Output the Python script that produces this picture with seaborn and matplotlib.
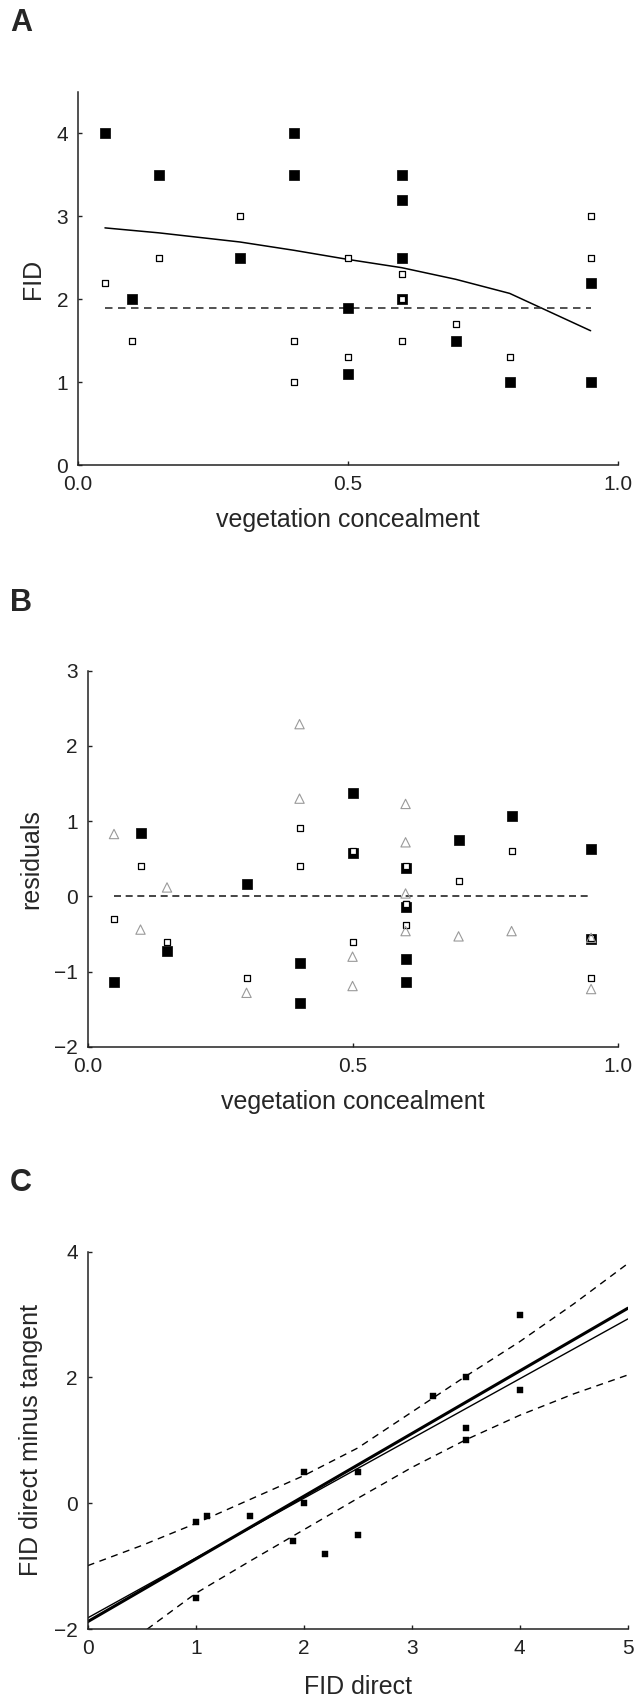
import numpy as np
import pandas as pd
import matplotlib
matplotlib.use("Agg")
import matplotlib.pyplot as plt
import seaborn as sns

# ---- data ----
# panel A: FID per vegetation concealment, direct (filled) and tangent (open)
veg = [0.05, 0.10, 0.15, 0.30, 0.40, 0.40, 0.50, 0.50,
       0.60, 0.60, 0.60, 0.60, 0.70, 0.80, 0.95, 0.95]
fid_direct = [4.0, 2.0, 3.5, 2.5, 4.0, 3.5, 1.9, 1.1,
              3.5, 3.2, 2.5, 2.0, 1.5, 1.0, 2.2, 1.0]
fid_tangent = [2.2, 1.5, 2.5, 3.0, 1.0, 1.5, 2.5, 1.3,
               2.3, 1.5, 2.0, 2.0, 1.7, 1.3, 3.0, 2.5]

curve_x = [0.05, 0.10, 0.15, 0.30, 0.40, 0.50, 0.60, 0.70, 0.80, 0.95]
curve_y = [2.86, 2.83, 2.80, 2.69, 2.59, 2.48, 2.38, 2.24, 2.07, 1.62]
ref_x = [0.05, 0.95]
ref_y = [1.9, 1.9]

# panel B: residuals
res_filled = [-1.13, 0.84, -0.72, 0.17, -0.89, -1.42, 1.38, 0.58,
              0.38, -0.14, -0.83, -1.13, 0.75, 1.07, 0.63, -0.57]
res_open = [-0.30, 0.40, -0.60, -1.08, 0.91, 0.40, 0.60, -0.60,
            0.40, -0.10, -0.10, -0.38, 0.20, 0.61, -0.55, -1.08]
res_tri = [0.83, -0.44, 0.12, -1.28, 2.29, 1.30, -0.80, -1.19,
           1.23, 0.72, 0.04, -0.46, -0.53, -0.46, -1.23, -0.55]
zero_x = [0.05, 0.95]
zero_y = [0.0, 0.0]

# panel C: regression of (direct - tangent) on direct
fit_x = [0, 5]
fit_thick = [-1.88, 3.10]
fit_thin = [-1.82, 2.93]
ci_up_x = [0.0, 0.5, 1.0, 1.5, 2.0, 2.5, 3.0, 3.5, 4.0, 4.5, 5.0]
ci_up_y = [-0.99, -0.67, -0.32, 0.06, 0.44, 0.88, 1.45, 2.02, 2.57, 3.17, 3.81]
ci_lo_x = [0.55, 1.0, 1.5, 2.0, 2.5, 3.0, 3.5, 4.0, 4.5, 5.0]
ci_lo_y = [-2.0, -1.43, -0.92, -0.42, 0.08, 0.57, 1.01, 1.40, 1.74, 2.04]

dfA = pd.DataFrame({"veg": veg, "direct": fid_direct, "tangent": fid_tangent})
dfA["diff"] = dfA["direct"] - dfA["tangent"]

sns.set_style("ticks")
plt.rcParams["font.family"] = ["Liberation Sans", "DejaVu Sans"]
plt.rcParams["axes.linewidth"] = 1.1
plt.rcParams["xtick.direction"] = "in"
plt.rcParams["ytick.direction"] = "in"

fig = plt.figure(figsize=(6.35, 16.98), dpi=100)
axA = fig.add_axes([0.1228, 0.7261, 0.8498, 0.2198])
axB = fig.add_axes([0.1378, 0.3834, 0.8348, 0.2216])
axC = fig.add_axes([0.1381, 0.0405, 0.8506, 0.2224])

# ---- A ----
sns.scatterplot(data=dfA, x="veg", y="direct", marker="s", s=42, color="black",
                edgecolor="black", linewidth=0.5, ax=axA, zorder=3)
sns.scatterplot(data=dfA, x="veg", y="tangent", marker="s", s=20, color="white",
                edgecolor="black", linewidth=0.9, ax=axA, zorder=4)
sns.lineplot(x=curve_x, y=curve_y, color="black", lw=1.1, sort=False,
             estimator=None, ax=axA)
sns.lineplot(x=ref_x, y=ref_y, color="#333333", lw=1.2, ax=axA,
             linestyle=(0, (4.5, 3.3)))
axA.set_xlim(0, 1)
axA.set_ylim(0, 4.5)
axA.set_xticks([0, 0.5, 1.0])
axA.set_xticklabels(["0.0", "0.5", "1.0"])
axA.set_yticks([0, 1, 2, 3, 4])
axA.set_xlabel("vegetation concealment", fontsize=18, labelpad=10)
axA.set_ylabel("FID", fontsize=18, labelpad=8)

# ---- B ----
sns.scatterplot(x=veg, y=res_filled, marker="s", s=42, color="black",
                edgecolor="black", linewidth=0.5, ax=axB, zorder=3)
sns.scatterplot(x=veg, y=res_open, marker="s", s=20, color="white",
                edgecolor="black", linewidth=0.9, ax=axB, zorder=4)
sns.scatterplot(x=veg, y=res_tri, marker="^", s=45, color="none",
                edgecolor="#9a9a9a", linewidth=0.8, ax=axB, zorder=5)
sns.lineplot(x=zero_x, y=zero_y, color="#444444", lw=1.4, ax=axB,
             linestyle=(0, (3.6, 2.4)))
axB.set_xlim(0, 1)
axB.set_ylim(-2, 3)
axB.set_xticks([0, 0.5, 1.0])
axB.set_xticklabels(["0.0", "0.5", "1.0"])
axB.set_yticks([-2, -1, 0, 1, 2, 3])
axB.set_xlabel("vegetation concealment", fontsize=18, labelpad=10)
axB.set_ylabel("residuals", fontsize=18, labelpad=8)

# ---- C ----
sns.scatterplot(data=dfA, x="direct", y="diff", marker="s", s=25, color="black",
                edgecolor="black", linewidth=0.3, ax=axC, zorder=4)
sns.lineplot(x=fit_x, y=fit_thick, color="black", lw=2.2, ax=axC)
sns.lineplot(x=fit_x, y=fit_thin, color="black", lw=1.0, ax=axC)
sns.lineplot(x=ci_up_x, y=ci_up_y, color="black", lw=1.0, sort=False,
             estimator=None, ax=axC, linestyle=(0, (5, 4)))
sns.lineplot(x=ci_lo_x, y=ci_lo_y, color="black", lw=1.0, sort=False,
             estimator=None, ax=axC, linestyle=(0, (5, 4)))
axC.set_xlim(0, 5)
axC.set_ylim(-2, 4)
axC.set_xticks([0, 1, 2, 3, 4, 5])
axC.set_yticks([-2, 0, 2, 4])
axC.set_xlabel("FID direct", fontsize=18, labelpad=12)
axC.set_ylabel("FID direct minus tangent", fontsize=18, labelpad=8)

for ax in (axA, axB, axC):
    sns.despine(ax=ax)
    ax.tick_params(labelsize=15, length=3, width=1, pad=7, colors="#222222")
    for sp in ax.spines.values():
        sp.set_color("#222222")

for lab, ytop in (("A", 8), ("B", 588), ("C", 1168)):
    fig.text(10 / 635, 1 - ytop / 1698, lab, fontsize=22, fontweight="bold",
             ha="left", va="top")

fig.savefig("out.png", dpi=100)
